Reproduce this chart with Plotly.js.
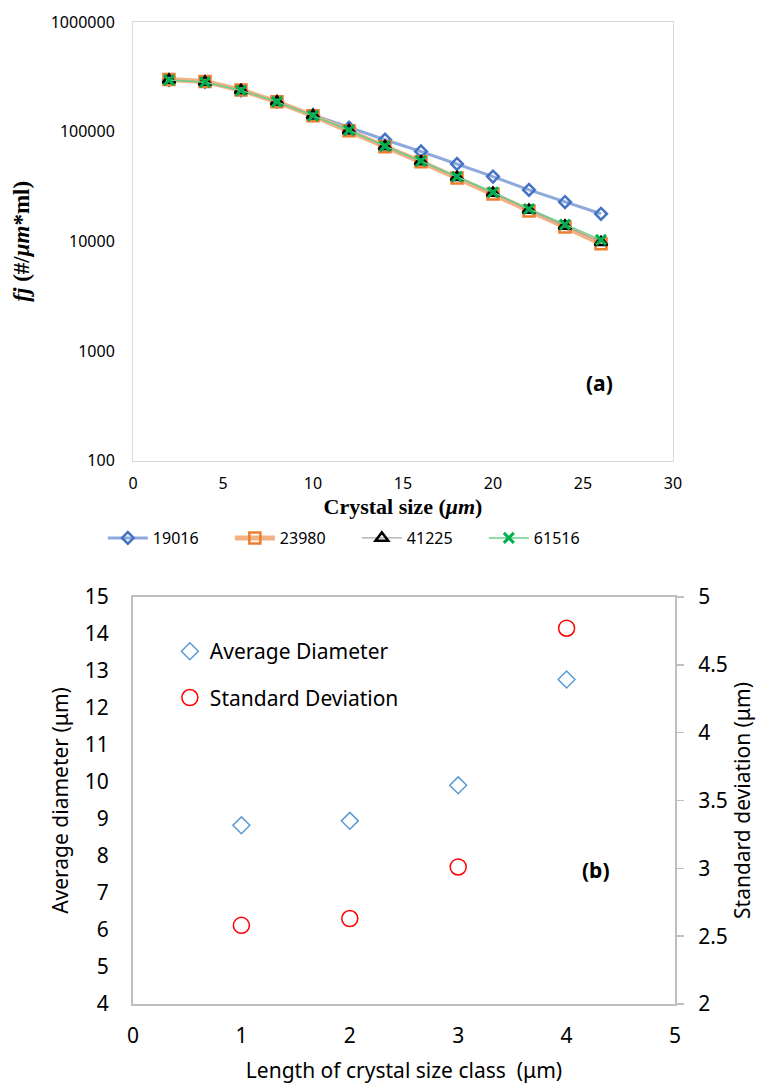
<!DOCTYPE html>
<html>
<head>
<meta charset="utf-8">
<script src="https://cdn.plot.ly/plotly-3.0.1.min.js"></script>
<style>
html, body { margin: 0; padding: 0; background: #ffffff; }
#chart { width: 771px; height: 1084px; }
</style>
</head>
<body>
<div id="chart"></div>
<script>
// ---- Panel (a): number density vs crystal size ----
var crystalSize = [2, 4, 6, 8, 10, 12, 14, 16, 18, 20, 22, 24, 26];
var seriesNames = ["19016", "23980", "41225", "61516"];
var fj19016 = [296000, 284000, 238000, 188000, 142000, 108700, 84300, 65900, 50700, 38900, 29400, 22800, 17800];
var fj23980 = [298000, 286000, 239000, 187000, 139500, 102000, 72800, 53000, 37800, 27000, 18900, 13500, 9500];
var fj41225 = [296000, 283000, 238000, 187000, 140000, 102600, 73300, 53500, 38300, 27500, 19300, 13800, 9800];
var fj61516 = [295000, 282000, 237000, 186600, 139700, 103000, 73800, 54000, 38800, 28000, 19700, 14200, 10300];
var yTickVals = [100, 1000, 10000, 100000, 1000000];
var yTickText = ["100", "1000", "10000", "100000", "1000000"];

// ---- Panel (b): average diameter & standard deviation ----
var classLength = [1, 2, 3, 4];
var avgDiameter = [8.83, 8.95, 9.91, 12.77];
var stdDeviation = [2.58, 2.63, 3.01, 4.77];

var numFont = "Noto Sans, Open Sans, sans-serif";
var serifFont = "Liberation Serif, Times New Roman, serif";

var traces = [
  {
    x: crystalSize, y: fj19016, name: seriesNames[0], type: "scatter", mode: "lines+markers",
    xaxis: "x", yaxis: "y", legend: "legend",
    line: { color: "#8eaadb", width: 3 },
    marker: { symbol: "diamond-open", size: 9, color: "#4472c4", line: { width: 2.5, color: "#4472c4" } }
  },
  {
    x: crystalSize, y: fj23980, name: seriesNames[1], type: "scatter", mode: "lines+markers",
    xaxis: "x", yaxis: "y", legend: "legend",
    line: { color: "#f4b183", width: 5 },
    marker: { symbol: "square-open", size: 11, color: "#ed7d31", line: { width: 2.5, color: "#ed7d31" } }
  },
  {
    x: crystalSize, y: fj41225, name: seriesNames[2], type: "scatter", mode: "lines+markers",
    xaxis: "x", yaxis: "y", legend: "legend",
    line: { color: "#a6a6a6", width: 1.2 },
    marker: { symbol: "triangle-up-open", size: 11, color: "#000000", line: { width: 2.5, color: "#000000" } }
  },
  {
    x: crystalSize, y: fj61516, name: seriesNames[3], type: "scatter", mode: "lines+markers",
    xaxis: "x", yaxis: "y", legend: "legend",
    line: { color: "#6fd08c", width: 1.5 },
    marker: { symbol: "x-thin-open", size: 10, color: "#00b050", line: { width: 3, color: "#00b050" } }
  },
  {
    x: classLength, y: avgDiameter, name: "Average Diameter", type: "scatter", mode: "markers",
    xaxis: "x2", yaxis: "y3", legend: "legend2", legendgroup: "g1",
    marker: { symbol: "diamond-open", size: 13, color: "#5b9bd5", line: { width: 1.5, color: "#5b9bd5" } }
  },
  {
    x: classLength, y: stdDeviation, name: "Standard Deviation", type: "scatter", mode: "markers",
    xaxis: "x2", yaxis: "y4", legend: "legend2", legendgroup: "g2",
    marker: { symbol: "circle-open", size: 16, color: "#ff0000", line: { width: 1.5, color: "#ff0000" } }
  }
];

var layout = {
  width: 771, height: 1084,
  margin: { l: 133, r: 96, t: 20, b: 80 },
  paper_bgcolor: "#ffffff", plot_bgcolor: "#ffffff",
  font: { family: numFont, color: "#000000", size: 16 },
  showlegend: true,
  xaxis: {
    domain: [0, 0.9963], anchor: "y",
    range: [0, 30], dtick: 5, tick0: 0,
    showgrid: false, zeroline: false,
    showline: true, linecolor: "#d9d9d9", linewidth: 1, mirror: true,
    ticks: "", ticklabelstandoff: 8,
    tickfont: { family: numFont, size: 16, color: "#000000" },
    title: { text: "<b>Crystal size (<i>μm</i>)</b>", font: { family: serifFont, size: 22, color: "#000000" }, standoff: 2 }
  },
  yaxis: {
    domain: [0.5523, 0.998], anchor: "x",
    type: "log", range: [2, 6],
    tickvals: yTickVals, ticktext: yTickText,
    showgrid: false, zeroline: false,
    showline: true, linecolor: "#d9d9d9", linewidth: 1, mirror: true,
    ticks: "", ticklabelstandoff: 14,
    tickfont: { family: numFont, size: 16, color: "#000000" },
    title: { text: "<b><i>fj</i> (#/<i>μm</i>*ml)</b>", font: { family: serifFont, size: 23, color: "#000000" }, standoff: 14 }
  },
  xaxis2: {
    domain: [0, 1], anchor: "y3",
    range: [0, 5], dtick: 1, tick0: 0,
    showgrid: false, zeroline: false,
    showline: true, linecolor: "#bfbfbf", linewidth: 2, mirror: true,
    ticks: "", ticklabelstandoff: 12,
    tickfont: { family: numFont, size: 21, color: "#000000" },
    title: { text: "Length of crystal size class  (μm)", font: { family: numFont, size: 21, color: "#000000" }, standoff: 20 }
  },
  yaxis3: {
    domain: [0, 0.4136], anchor: "x2",
    range: [4, 15], dtick: 1, tick0: 4,
    showgrid: false, zeroline: false,
    showline: true, linecolor: "#bfbfbf", linewidth: 2,
    ticks: "", ticklabelstandoff: 18,
    tickfont: { family: numFont, size: 21, color: "#000000" },
    title: { text: "Average diameter (μm)", font: { family: numFont, size: 21, color: "#000000" }, standoff: 10 }
  },
  yaxis4: {
    overlaying: "y3", side: "right", anchor: "x2",
    range: [2, 5], dtick: 0.5, tick0: 2,
    showgrid: false, zeroline: false,
    showline: true, linecolor: "#bfbfbf", linewidth: 2,
    ticks: "outside", ticklen: 7, tickwidth: 1.5, tickcolor: "#bfbfbf", ticklabelstandoff: 10,
    tickfont: { family: numFont, size: 21, color: "#000000" },
    title: { text: "Standard deviation (μm)", font: { family: numFont, size: 21, color: "#000000" }, standoff: 8 }
  },
  legend: {
    orientation: "h", x: 0.413, xanchor: "center", y: 0.4736, yanchor: "middle",
    xref: "paper", yref: "paper",
    bgcolor: "rgba(0,0,0,0)", borderwidth: 0,
    itemwidth: 40, entrywidth: 72, entrywidthmode: "pixels",
    font: { family: numFont, size: 16, color: "#000000" },
    itemclick: false, itemdoubleclick: false
  },
  legend2: {
    orientation: "v", x: 0.068, xanchor: "left", y: 0.379, yanchor: "top",
    xref: "paper", yref: "paper",
    bgcolor: "rgba(0,0,0,0)", borderwidth: 0,
    tracegroupgap: 16, itemwidth: 30,
    font: { family: numFont, size: 21, color: "#000000" },
    itemclick: false, itemdoubleclick: false
  },
  annotations: [
    {
      text: "<b>(a)</b>", xref: "paper", yref: "paper", x: 0.8616, y: 0.6311,
      xanchor: "center", yanchor: "middle", showarrow: false,
      font: { family: numFont, size: 21, color: "#000000" }
    },
    {
      text: "<b>(b)</b>", xref: "paper", yref: "paper", x: 0.854, y: 0.1362,
      xanchor: "center", yanchor: "middle", showarrow: false,
      font: { family: numFont, size: 21, color: "#000000" }
    }
  ]
};

Plotly.newPlot("chart", traces, layout, { displayModeBar: false, staticPlot: true });
</script>
</body>
</html>
